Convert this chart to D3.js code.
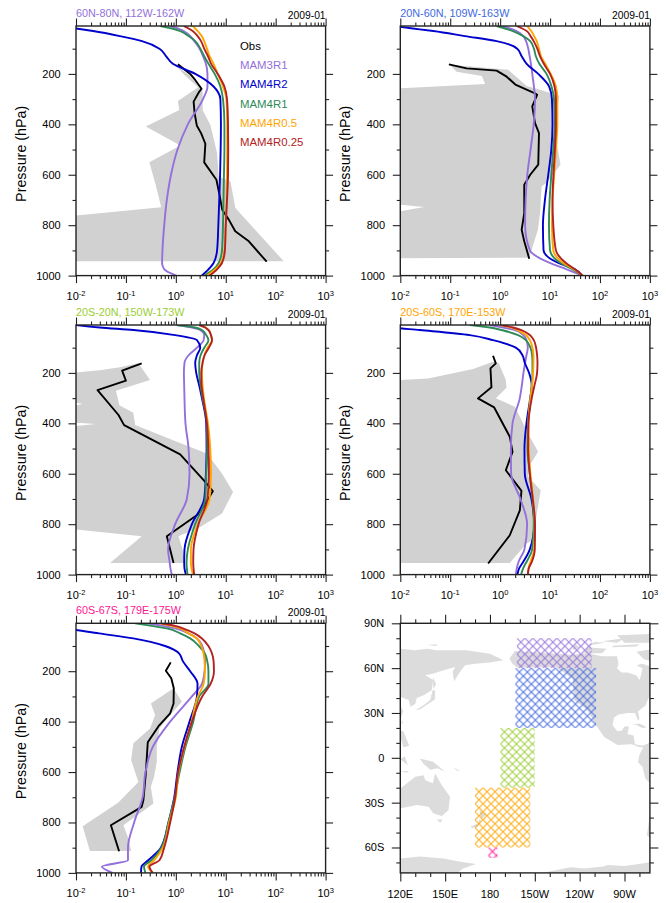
<!DOCTYPE html>
<html>
<head>
<meta charset="utf-8">
<script src="https://cdn.jsdelivr.net/npm/d3@7"></script>
<style>
  body { margin: 0; background: #fff; }
  text { font-family: "Liberation Sans", Arial, sans-serif; fill: #000; }
</style>
</head>
<body>
<div id="d3-container"></div>
<script>
/**
 * DATA
 * model values are read at these pressure levels (hPa)
 * */
const levels = [10, 20, 30, 50, 70, 100, 130, 160, 200, 250, 300, 400, 500, 600, 700, 800, 900, 950, 975, 1000];
const seriesNames = ["Obs", "MAM3R1", "MAM4R2", "MAM4R1", "MAM4R0.5", "MAM4R0.25"];
const seriesColors = ["#000000", "#9370db", "#0000cd", "#2e8b57", "#ffa500", "#b22222"];
const xTicks = [-2, -1, 0, 1, 2, 3];
const pMajor = [200, 400, 600, 800, 1000];
const pMinor = [100, 300, 500, 700, 900];

// panel 1: 60N-80N
const obs1 = [[162,1.1],[200,1.94],[224,2.44],[259,3.27],[270,2.95],[310,2.27],[356,2.38],[406,2.64],[435,3.2],[477,3.9],[551,3.7],[620,6.5],[686,7.6],[739,8.5],[778,11.5],[824,15.5],[864,29],[945,66]];
const band1 = [[171,1.05],[205,1.9],[253,2.95],[263,3.44],[343,3.44],[402,4.9],[514,6.7],[607,7.2],[626,12.4],[732,15.6],[943,145],[943,0.01],[762,0.01],[729,0.51],[633,0.385],[550,0.295],[484,1.23],[409,0.25],[343,1.17],[307,1.1],[253,2.8],[205,1.5]];
const r3m1 = [0.77,1.13,1.43,1.95,2.34,3.0,3.5,4.0,4.3,4.3,3.5,1.74,1.08,0.8,0.66,0.585,0.54,0.53,0.585,1.02];
const r2m1 = [0.004,0.01,0.022,0.076,0.21,0.47,0.64,0.87,2.45,5.7,7.8,8.0,7.9,7.7,7.4,7.1,6.7,5.7,4.5,3.3];
const r1m1 = [0.49,0.83,1.23,1.8,2.45,3.1,3.7,4.5,6.0,7.8,8.8,9.4,9.4,9.2,9.0,8.8,8.4,7.2,5.7,3.7];
const r05m1 = [2.2,2.45,2.73,3.3,3.7,4.2,4.75,5.7,6.9,8.8,10.3,10.7,10.7,10.6,10.4,10,9.4,8.0,6.2,4.2];
const r025m1 = [1.43,1.8,2.17,2.73,3.2,3.7,4.4,5.1,6.9,9.4,10.6,11.1,11.2,11.1,10.6,10,9.6,8.4,6.7,4.75];

// panel 2: 20N-60N
const obs2 = [[162,0.094],[178,0.213],[187,0.85],[211,1.35],[244,2.07],[277,5],[283,5.5],[329,4.4],[395,5],[435,6],[560,5.8],[600,4],[640,3.04],[752,3.04],[818,2.7],[864,3.04],[933,3.83]];
const band2 = [[164,0.099],[184,1.45],[248,3.4],[263,6.3],[287,15.3],[369,13.1],[488,14],[560,16.2],[633,8.5],[646,6.8],[752,6.3],[818,5.7],[929,3.83],[931,0.01],[745,0.01],[728,0.03],[719,0.01],[257,0.01],[240,0.5],[208,0.43],[191,0.134]];
const r3m2 = [1,1.57,2.14,2.9,3.3,3.66,3.9,4.14,4.4,4.75,5,4.7,4.07,3.5,3.24,3.16,3.95,9.9,21.4,45];
const r2m2 = [0.007,0.018,0.046,0.197,0.85,2.2,2.7,3.4,5.8,9.6,10.9,11.2,10.6,9.2,7.9,7.2,7.4,14.6,31.5,45];
const r1m2 = [0.85,1.25,1.8,2.9,4,4.75,5.2,6.1,8.5,10.7,12,12.5,11.6,10.6,9.8,9.5,10,16.2,28,45];
const r05m2 = [3.5,3.83,4.2,4.8,5.4,6,6.6,8,10.3,13.1,14,14,13.1,12.1,11.2,10.9,11.6,18.4,30,45];
const r025m2 = [2.14,2.77,3.4,4.07,4.7,5.55,6.3,7.5,10,12.3,13.1,13.1,12.5,11.7,11.2,11.6,13.1,20.8,31.6,45];

// panel 3: 20S-20N
const obs3 = [[162,0.207],[191,0.084],[231,0.1],[268,0.027],[367,0.071],[407,0.092],[523,1.22],[632,3.88],[669,5.5],[758,2.94],[848,0.66],[954,0.9]];
const band3 = [[162,0.178],[228,0.305],[271,0.063],[328,0.074],[358,0.141],[407,0.153],[473,1.05],[520,4.2],[599,8.4],[672,14],[758,8.4],[811,3.08],[848,1.13],[903,1.38],[954,1.54],[954,0.048],[848,0.207],[821,0.01],[411,0.01],[403,0.025],[398,0.01],[329,0.01],[322,0.0135],[318,0.01],[198,0.01],[189,0.03],[178,0.076]];
const r3m3 = [1.05,2.1,3.08,3.7,3.6,2.65,1.8,1.49,1.45,1.47,1.49,1.56,1.8,1.88,1.66,0.97,0.7,0.75,0.78,0.83];
const r2m3 = [0.01,0.03,0.141,0.97,2.65,3.08,2.65,2.44,2.56,2.94,3.33,4.06,4.13,4,3.7,2.1,1.49,1.47,1.49,1.59];
const r1m3 = [1.05,2.44,3.33,4.06,4.5,3.7,3.13,2.94,2.94,3.13,3.43,4.2,4.25,4.06,3.88,2.44,1.74,1.64,1.66,1.71];
const r05m3 = [3.5,3.94,4.5,5.05,5.3,4.3,3.76,3.43,3.33,3.43,3.65,4.4,4.9,5.05,4.74,2.77,2,2,2.06,2.2];
const r025m3 = [2.94,3.88,4.5,5.05,5.3,4.6,3.76,3.43,3.23,3.27,3.54,4.2,4.5,4.6,4.3,2.85,2.26,2.23,2.26,2.33];

// panel 4: 20S-60S
const obs4 = [[132,0.72],[162,0.82],[182,0.64],[257,0.67],[301,0.36],[337,0.76],[453,1.56],[513,1.77],[586,1.3],[668,2.67],[745,2.48],[844,1.56],[956,0.575]];
const band4 = [[228,0.01],[222,0.036],[185,0.288],[156,0.72],[162,0.94],[228,1.3],[259,1.34],[301,0.82],[334,1.97],[453,3.93],[513,5.76],[566,3.93],[612,3.63],[665,6.5],[771,5.3],[864,4.58],[877,3.37],[954,1.56],[954,0.01]];
const r3m4 = [0.62,1.15,1.97,2.89,3.37,3.58,3.37,3.16,2.93,2.72,2.48,1.77,1.64,1.66,2.55,3.47,3.07,2.33,2.16,2.06];
const r2m4 = [0.003,0.007,0.0246,0.247,0.72,2.06,2.8,3.12,3.8,4.3,4,3.37,3.07,3.12,4.24,4.8,3.93,2.89,2.4,2.22];
const r1m4 = [0.247,0.62,1.06,2.29,3.27,4.05,4.37,4.44,4.44,4.3,4.05,3.63,3.53,3.93,4.44,4.72,4.37,3.37,2.89,2.63];
const r05m4 = [1,1.69,2.22,3.27,3.93,4.44,4.65,4.65,4.58,4.37,4.05,3.69,3.75,4.05,4.58,4.94,4.8,4.05,3.69,3.63];
const r025m4 = [1.05,1.82,2.67,3.93,4.72,5.25,5.5,5.6,5.5,4.87,4.3,3.69,3.63,3.93,4.5,5,4.94,4.3,3.75,3.58];

// panel 5: 60S-67S
const obs5 = [[165,0.79],[198,0.63],[228,0.81],[268,0.91],[328,0.9],[367,0.77],[418,0.45],[482,0.274],[606,0.25],[711,0.224],[738,0.207],[811,0.05],[914,0.073]];
const band5 = [[268,0.9],[321,1.32],[374,0.77],[427,0.47],[500,0.415],[559,0.415],[619,0.367],[658,0.315],[725,0.356],[811,0.089],[864,0.112],[913,0.127],[913,0.019],[815,0.0136],[721,0.0706],[639,0.178],[553,0.127],[486,0.141],[427,0.305],[374,0.385],[328,0.316]];
const r3m5 = [0.26,0.56,0.97,1.8,2.65,3.38,3.7,3.88,3.76,3.33,2.1,0.77,0.345,0.246,0.217,0.146,0.11,0.11,0.033,0.054];
const r2m5 = [0.001,0.003,0.006,0.029,0.141,0.61,1.17,1.38,1.94,2.72,2.65,1.88,1.32,1.08,0.93,0.71,0.5,0.28,0.205,0.2];
const r1m5 = [0.153,0.33,0.66,1.22,1.94,2.9,3.82,4.26,4.5,4.5,2.94,2.23,1.56,1.19,0.95,0.71,0.515,0.325,0.23,0.246];
const r05m5 = [0.47,0.83,1.22,1.8,2.65,3.23,3.6,3.76,3.82,3.6,2.77,2.06,1.49,1.13,1,0.735,0.55,0.367,0.278,0.345];
const r025m5 = [0.5,0.97,1.38,2.37,3.33,4.5,5.3,5.7,5.8,4.97,3.38,2.1,1.47,1.11,0.97,0.77,0.583,0.47,0.296,0.345];

// map: hatched regions [lon0, lon1, lat0, lat1] in degrees east
const regionNames = ["20N-60N", "60N-80N", "20S-20N", "20S-60S", "60S-67S"];
const regionColors = ["#4169e1", "#9370db", "#9acd32", "#ffa500", "#ff1493"];
const regionBoxes = [[197,251,20,60],[198,248,60,80],[187,210,-20,20],[170,207,-60,-20],[179,185,-67,-60]];
const lonTicks = [120,150,180,210,240,270];
const lonLabels = ["120E","150E","180","150W","120W","90W"];
const latTicks = [-60,-30,0,30,60,90];
const latLabels = ["60S","30S","0","30N","60N","90N"];
const lonMinor = d3.range(130, 287, 10).filter(d => !lonTicks.includes(d));
const latMinor = d3.range(-70, 90, 10).filter(d => !latTicks.includes(d));

// rough coastlines, [lon, lat]
const landAsia = [[120,73],[130,72],[138,73],[144,72],[164,72],[180,69.7],[189,65.3],[180,63.7],[170,63],[163.3,61.9],[160,57.5],[156,51.2],[155,57.5],[156.7,60.8],[149,58.6],[142.2,56.4],[136.7,55.3],[142,52],[141,45.2],[135.6,41.9],[131,40.1],[130,36],[126.7,34.1],[125.6,38.6],[120,40.8]];
const landChina = [[120,35],[122,31],[120,26]];
const landTaiwan = [[121,25],[122,24],[120.8,22]];
const landPhilippines = [[120,18],[122,18],[124,13],[126,8],[122,7],[120,14]];
const landSakhalin = [[142,54],[144,49],[142,46]];
const landJapan = [[130,31.9],[135.6,35.2],[140,38.6],[141.6,45.2],[143.3,45.2],[143.3,39.2],[133.3,32.5]];
const landSiberiaIs = [[138,75.5],[145,76],[144,74.8]];
const landNorthAmerica = [[193,66.4],[196.7,71.5],[203,71],[220,70],[235,69],[245,70],[255,68],[265,68],[266,63],[265,60],[268,57],[272,57],[278,55],[280,52],[281,55],[282,60],[278,62],[282,63],[290,60],[290,45],[287,42],[284,35],[279,31],[280,26],[279,25],[277,30],[272,30],[266,29],[263,27],[262,22],[265,18],[268,18],[270,21],[273,21],[272,16],[276,15],[277,9],[282,8],[290,11],[290,9],[282,7],[280,7],[275,9],[265.3,8.5],[256.4,14],[250.9,21.9],[245.3,31.9],[236.4,38.6],[235.3,53],[224,60.8],[198,60.5],[195,63]];
const landCuba = [[275,22],[280,23],[285,20.5],[282,20],[278,22]];
const landBanks = [[235,72],[240,74],[237,76]];
const landVictoria = [[243,70],[255,70],[258,73],[245,74]];
const landEllesmere = [[270,77],[290,77],[290,83],[265,82]];
const landDevon = [[262,75],[280,76],[278,74.5],[262,74]];
const landBaffin = [[278,71],[290,73],[290,64],[283,66]];
const landMelville = [[245,75],[257,77],[250,77.5]];
const landSverdrup = [[255,78],[270,80],[265,77]];
const landSouthAmerica = [[290,12],[283,8],[280,2],[279,-3],[282,-6],[284,-14],[288,-18],[290,-30],[287,-36],[286,-45],[285,-52],[290,-55]];
const landAustralia = [[120,-20.5],[130,-12.7],[135.6,-11.6],[136.7,-15],[141.8,-17.1],[143.3,-10.5],[147.8,-18.3],[153.3,-26],[152.2,-35],[147.8,-39],[142.2,-37.2],[138.9,-32.7],[131,-31.6],[125.6,-32.7],[120,-33.8]];
const landTasmania = [[144.4,-41.2],[148.4,-41.2],[146.7,-43.4]];
const landNZNorth = [[173,-35],[178,-38],[174,-41]];
const landNZSouth = [[173,-41],[172,-44],[167,-46],[168,-47],[172,-46],[174,-42]];
const landNewGuinea = [[133,-0.5],[142,-2.7],[150,-9.4],[145,-7],[140,-8],[135.5,-4]];
const landSulawesi = [[120,-1],[123,1],[125,-5]];
const landSunda = [[120,-9],[126,-9],[124,-10]];
const landSolomon = [[155,-6],[160,-9],[158,-8.6]];
const landAntarcticaW = [[120,-67.3],[133,-66.1],[149,-67.3],[160,-69.5],[170.7,-71],[162,-74],[157,-78],[120,-78]];
const landAntarcticaE = [[215,-78],[218.7,-76.2],[234,-73.3],[243,-74],[256,-72.8],[258.7,-71.7],[269.8,-72.4],[283,-70.6],[290,-69],[290,-78]];
const landShapes = [landAsia,landChina,landTaiwan,landPhilippines,landSakhalin,landJapan,landSiberiaIs,landNorthAmerica,landCuba,landBanks,landVictoria,landEllesmere,landDevon,landBaffin,landMelville,landSverdrup,landSouthAmerica,landAustralia,landTasmania,landNZNorth,landNZSouth,landNewGuinea,landSulawesi,landSunda,landSolomon,landAntarcticaW,landAntarcticaE];

/**
 * LAYOUT
 * */
const panelW = 249.6, panelH = 249.6;
const panels = [
  { left: 76, top: 26, title: "60N-80N, 112W-162W", color: "#9370db", obs: obs1, band: band1, models: [r3m1, r2m1, r1m1, r05m1, r025m1], legend: true },
  { left: 400.3, top: 26, title: "20N-60N, 109W-163W", color: "#4169e1", obs: obs2, band: band2, models: [r3m2, r2m2, r1m2, r05m2, r025m2] },
  { left: 76, top: 325, title: "20S-20N, 150W-173W", color: "#9acd32", obs: obs3, band: band3, models: [r3m3, r2m3, r1m3, r05m3, r025m3] },
  { left: 400.3, top: 325, title: "20S-60S, 170E-153W", color: "#ffa500", obs: obs4, band: band4, models: [r3m4, r2m4, r1m4, r05m4, r025m4] },
  { left: 76, top: 623.3, title: "60S-67S, 179E-175W", color: "#ff1493", obs: obs5, band: band5, models: [r3m5, r2m5, r1m5, r05m5, r025m5] },
];

const svg = d3.select("#d3-container").append("svg")
  .attr("width", 666)
  .attr("height", 903)
  .style("display", "block");
const defs = svg.append("defs");

const x = d3.scaleLog().domain([0.01, 1000]).range([0, panelW]);
const y = d3.scaleLinear().domain([10, 1000]).range([0, panelH]);
const xMinor = xTicks.slice(0, -1).flatMap(e => d3.range(2, 10).map(m => m * 10 ** e));

// one set of outward ticks on one side
function tickSet(g, axisFn, scale, values, size, translate) {
  g.append("g")
    .attr("transform", translate)
    .call(axisFn(scale).tickValues(values).tickSize(size).tickSizeOuter(0).tickFormat(""))
    .call(a => a.select(".domain").remove())
    .call(a => a.selectAll("line").attr("stroke", "#222").attr("stroke-width", 1.1));
}

function frame(g) {
  g.append("rect")
    .attr("width", panelW).attr("height", panelH)
    .attr("fill", "none").attr("stroke", "#222").attr("stroke-width", 1.4);
}

panels.forEach((p, i) => {
  const g = svg.append("g").attr("transform", `translate(${p.left},${p.top})`);
  const clipId = `clip${i}`;
  defs.append("clipPath").attr("id", clipId).append("rect").attr("width", panelW).attr("height", panelH);
  const plot = g.append("g").attr("clip-path", `url(#${clipId})`);

  // min-max range of the observations
  const bandLine = d3.line().x(d => x(d[1])).y(d => y(d[0]));
  plot.append("path")
    .attr("d", bandLine(p.band) + "Z")
    .attr("fill", "#d1d1d1");

  plot.append("path")
    .attr("d", bandLine(p.obs))
    .attr("fill", "none")
    .attr("stroke", seriesColors[0])
    .attr("stroke-width", 1.9)
    .attr("stroke-linejoin", "round");

  const modelLine = d3.line()
    .x((d, j) => x(d))
    .y((d, j) => y(levels[j]))
    .curve(d3.curveMonotoneY);
  plot.selectAll("path.model")
    .data(p.models)
    .join("path")
    .attr("class", "model")
    .attr("d", d => modelLine(d))
    .attr("fill", "none")
    .attr("stroke", (d, j) => seriesColors[j + 1])
    .attr("stroke-width", 1.9);

  // ticks on all four sides
  const majorX = xTicks.map(e => 10 ** e);
  tickSet(g, d3.axisBottom, x, majorX, 7.5, `translate(0,${panelH})`);
  tickSet(g, d3.axisTop, x, majorX, 7.5, "translate(0,0)");
  tickSet(g, d3.axisLeft, y, pMajor, 7.5, "translate(0,0)");
  tickSet(g, d3.axisRight, y, pMajor, 7.5, `translate(${panelW},0)`);
  tickSet(g, d3.axisBottom, x, xMinor, 3.5, `translate(0,${panelH})`);
  tickSet(g, d3.axisTop, x, xMinor, 3.5, "translate(0,0)");
  tickSet(g, d3.axisLeft, y, pMinor, 3.5, "translate(0,0)");
  tickSet(g, d3.axisRight, y, pMinor, 3.5, `translate(${panelW},0)`);
  frame(g);

  // tick labels
  g.selectAll("text.ylab")
    .data(pMajor)
    .join("text")
    .attr("class", "ylab")
    .attr("x", -15.3)
    .attr("y", d => y(d))
    .attr("dy", "0.36em")
    .attr("text-anchor", "end")
    .attr("font-size", 11)
    .text(d => d);

  const xlab = g.selectAll("text.xlab")
    .data(xTicks)
    .join("text")
    .attr("class", "xlab")
    .attr("x", d => x(10 ** d))
    .attr("y", panelH + 24.5)
    .attr("text-anchor", "middle")
    .attr("font-size", 11);
  xlab.append("tspan").text("10");
  xlab.append("tspan").attr("dy", -4.5).attr("font-size", 7.5).text(d => d);

  g.append("text")
    .attr("transform", `translate(-50,${panelH / 2 + 3}) rotate(-90)`)
    .attr("text-anchor", "middle")
    .attr("font-size", 14.3)
    .text("Pressure (hPa)");

  // titles
  g.append("text")
    .attr("x", 0).attr("y", -9)
    .attr("font-size", 10.8)
    .style("fill", p.color)
    .text(p.title);
  g.append("text")
    .attr("x", panelW).attr("y", -7.5)
    .attr("text-anchor", "end")
    .attr("font-size", 10.3)
    .text("2009-01");

  if (p.legend) {
    g.selectAll("text.legend")
      .data(seriesNames)
      .join("text")
      .attr("class", "legend")
      .attr("x", 164)
      .attr("y", (d, j) => 20 + j * 19.15)
      .attr("dy", "0.36em")
      .attr("font-size", 11.4)
      .style("fill", (d, j) => seriesColors[j])
      .text(d => d);
  }
});

/**
 * MAP PANEL
 * */
const mapG = svg.append("g").attr("transform", "translate(400.3,623.3)");
const lonScale = d3.scaleLinear().domain([120, 287]).range([0, panelW]);
const latScale = d3.scaleLinear().domain([90, -77]).range([0, panelH]);
defs.append("clipPath").attr("id", "clipMap").append("rect").attr("width", panelW).attr("height", panelH);
const mapPlot = mapG.append("g").attr("clip-path", "url(#clipMap)");

const landLine = d3.line().x(d => lonScale(d[0])).y(d => latScale(d[1]));
mapPlot.selectAll("path.land")
  .data(landShapes)
  .join("path")
  .attr("class", "land")
  .attr("d", d => landLine(d) + "Z")
  .attr("fill", "#dcdcdc");

// cross hatch, started from the corner of each box
regionBoxes.forEach((b, i) => {
  const pat = defs.append("pattern")
    .attr("id", `hatch${i}`)
    .attr("patternUnits", "userSpaceOnUse")
    .attr("x", lonScale(b[0]))
    .attr("y", latScale(b[3]))
    .attr("width", 8).attr("height", 8);
  pat.append("path")
    .attr("d", "M0,0L8,8M0,8L8,0")
    .attr("stroke", regionColors[i])
    .attr("stroke-width", 1.2);
});
mapPlot.selectAll("rect.region")
  .data(regionBoxes)
  .join("rect")
  .attr("class", "region")
  .attr("x", d => lonScale(d[0]))
  .attr("width", d => lonScale(d[1]) - lonScale(d[0]))
  .attr("y", d => latScale(d[3]))
  .attr("height", d => latScale(d[2]) - latScale(d[3]))
  .attr("fill", (d, i) => `url(#hatch${i})`)
  .attr("opacity", 0.85);

tickSet(mapG, d3.axisBottom, lonScale, lonTicks, 8.5, `translate(0,${panelH})`);
tickSet(mapG, d3.axisTop, lonScale, lonTicks, 8.5, "translate(0,0)");
tickSet(mapG, d3.axisLeft, latScale, latTicks, 8.5, "translate(0,0)");
tickSet(mapG, d3.axisRight, latScale, latTicks, 8.5, `translate(${panelW},0)`);
tickSet(mapG, d3.axisBottom, lonScale, lonMinor, 4, `translate(0,${panelH})`);
tickSet(mapG, d3.axisTop, lonScale, lonMinor, 4, "translate(0,0)");
tickSet(mapG, d3.axisLeft, latScale, latMinor, 4, "translate(0,0)");
tickSet(mapG, d3.axisRight, latScale, latMinor, 4, `translate(${panelW},0)`);
frame(mapG);

mapG.selectAll("text.lonlab")
  .data(lonTicks)
  .join("text")
  .attr("class", "lonlab")
  .attr("x", d => lonScale(d))
  .attr("y", panelH + 25)
  .attr("text-anchor", "middle")
  .attr("font-size", 11)
  .text((d, i) => lonLabels[i]);
mapG.selectAll("text.latlab")
  .data(latTicks)
  .join("text")
  .attr("class", "latlab")
  .attr("x", -16)
  .attr("y", d => latScale(d))
  .attr("dy", "0.36em")
  .attr("text-anchor", "end")
  .attr("font-size", 11)
  .text((d, i) => latLabels[i]);
</script>
</body>
</html>
